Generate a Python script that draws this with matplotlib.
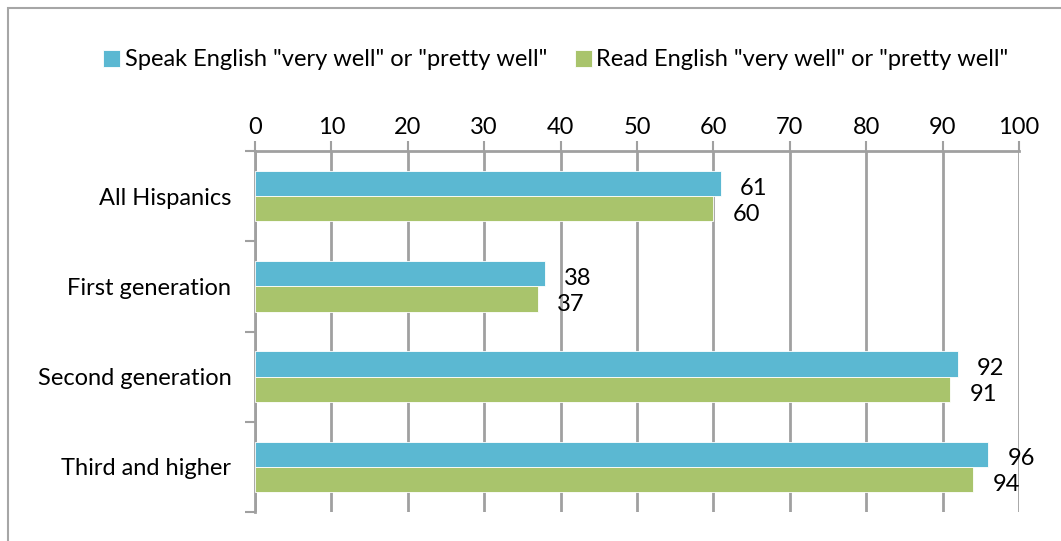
import matplotlib.pyplot as plt
import numpy as np
from matplotlib.patches import Rectangle

categories = ["All Hispanics", "First generation", "Second generation", "Third and higher"]
speak = [61, 38, 92, 96]
read = [60, 37, 91, 94]
series_labels = ['Speak English "very well" or "pretty well"',
                 'Read English "very well" or "pretty well"']
xticks = list(range(0, 101, 10))

BLUE = "#5BB8D2"
GREEN = "#A9C46C"
GRID = "#A0A0A0"
FS = 17

plt.rcParams['font.family'] = ['Lato', 'DejaVu Sans']

fig = plt.figure(figsize=(10.61, 5.41), dpi=100)
ax = fig.add_axes([255 / 1061, 29 / 541, (1019 - 255) / 1061, (512 - 151) / 541])

# border round the whole chart
fig.patches.append(Rectangle((8 / 1061, -0.1), 1.2, 533 / 541 + 0.1,
                             transform=fig.transFigure, fill=False,
                             edgecolor="#A6A6A6", linewidth=1.5))

y = np.arange(len(categories))
h = 0.28
ax.barh(y - h / 2, speak, height=h, color=BLUE, edgecolor="white", linewidth=0.6,
        label=series_labels[0], zorder=3)
ax.barh(y + h / 2, read, height=h, color=GREEN, edgecolor="white", linewidth=0.6,
        label=series_labels[1], zorder=3)

# value labels sit a little below the middle of each bar
for yi, v in zip(y, speak):
    ax.text(v + 2.5, yi - h / 2 + 0.05, str(v), va="center", ha="left", fontsize=FS, zorder=4)
for yi, v in zip(y, read):
    ax.text(v + 2.5, yi + h / 2 + 0.06, str(v), va="center", ha="left", fontsize=FS, zorder=4)

ax.set_xlim(0, 100)
ax.set_ylim(len(categories) - 0.5, -0.5)
ax.set_xticks(xticks)
ax.xaxis.tick_top()
ax.tick_params(axis="x", labelsize=FS, length=7, color=GRID, width=1.5, pad=2)
ax.set_yticks(y)
ax.set_yticklabels(categories)
ax.set_yticks(np.arange(-0.5, len(categories)), minor=True)
ax.tick_params(axis="y", which="major", length=0, labelsize=FS, pad=17)
ax.tick_params(axis="y", which="minor", length=7, color=GRID, width=1.5)
ax.grid(axis="x", color=GRID, linewidth=2, zorder=0)

for side in ["right", "bottom"]:
    ax.spines[side].set_visible(False)
for side in ["top", "left"]:
    ax.spines[side].set_color(GRID)
    ax.spines[side].set_linewidth(2)

fig.legend(loc="center", bbox_to_anchor=(556 / 1061, 1 - 60 / 541), ncol=2,
           frameon=False, fontsize=FS, handlelength=0.7, handleheight=0.7,
           handletextpad=0.2, columnspacing=1.2)

fig.savefig("out.png", dpi=100)
